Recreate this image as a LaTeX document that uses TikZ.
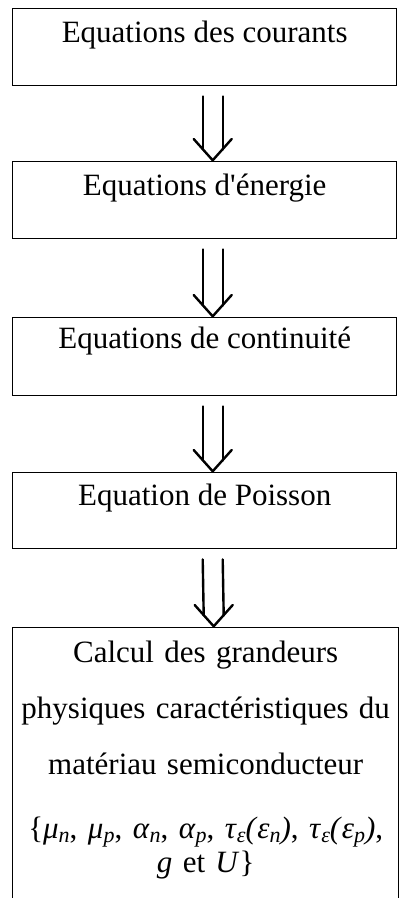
\documentclass[tikz,border=0pt]{standalone}
\usepackage{fontspec}
\setmainfont{Liberation Serif}
\usetikzlibrary{calc}
\newcommand{\gsub}[2]{\textit{#1}\raisebox{-0.28ex}{\fontsize{22}{22}\selectfont\itshape #2}}
\newcommand{\gsp}{\hspace{10.5pt}}
\tikzset{
  eqbox/.style={draw, line width=1.4pt, anchor=north west, minimum width=384pt,
    inner xsep=0pt, inner ysep=0pt, text height=34pt, text depth=43pt,
    font=\fontsize{31}{37}\selectfont},
  bigbox/.style={draw, line width=1.4pt, anchor=north west, text width=386pt,
    align=center, inner xsep=0pt, inner ysep=0pt,
    font=\fontsize{31}{56}\selectfont},
  arr/.style={line width=2.4pt, line cap=round, line join=round}
}
\newcommand{\dbarrow}[2]{%
  \draw[arr] ([xshift=-2pt,yshift=-10pt]#1.south) -- ([xshift=-2pt,yshift=11.6pt]#2.north);
  \draw[arr] ([xshift=18pt,yshift=-10pt]#1.south) -- ([xshift=18pt,yshift=11.6pt]#2.north);
  \draw[arr] ([xshift=-11pt,yshift=22pt]#2.north) -- ([xshift=8pt,yshift=0.7pt]#2.north) -- ([xshift=27pt,yshift=22pt]#2.north);
}
\begin{document}
\begin{tikzpicture}[x=1pt,y=-1pt]
\useasboundingbox (0,0) rectangle (400,898);
\fill[white] (0,0) rectangle (400,898);
\clip (0,0) rectangle (400,898);
\node[eqbox] (b1) at (12,8) {Equations des courants};
\node[eqbox] (b2) at (12,161) {Equations d\textquotesingle énergie};
\node[eqbox, text height=31pt, text depth=47pt] (b3) at (12,317) {Equations de continuité};
\node[eqbox, text height=33pt, text depth=43pt] (b4) at (12,472) {Equation de Poisson};
\node[bigbox] (b5) at (12,627) {\rule{0pt}{35pt}Calcul des grandeurs\\
physiques caractéristiques du\\
matériau semiconducteur\\[8pt]
\{\gsub{μ}{n},\gsp\gsub{μ}{p},\gsp\gsub{α}{n},\gsp\gsub{α}{p},\gsp\gsub{τ}{ε}\textit{(}\gsub{ε}{n}\textit{)},\gsp\gsub{τ}{ε}\textit{(}\gsub{ε}{p}\textit{)},\\[-22pt]
\textit{g} et \textit{U}\}\rule[-45pt]{0pt}{45pt}};
\dbarrow{b1}{b2}
\dbarrow{b2}{b3}
\dbarrow{b3}{b4}
\dbarrow{b4}{b5}
\end{tikzpicture}
\end{document}
